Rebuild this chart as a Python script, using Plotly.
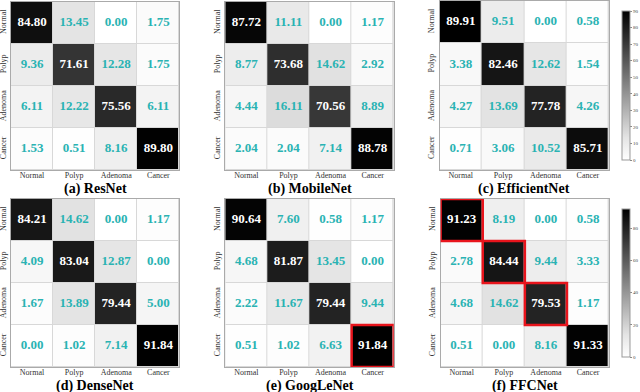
import plotly.graph_objects as go

classes = ["Normal", "Polyp", "Adenoma", "Cancer"]

titles = ["(a) ResNet", "(b) MobileNet", "(c) EfficientNet",
          "(d) DenseNet", "(e) GoogLeNet", "(f) FFCNet"]

resnet = [[84.80, 13.45, 0.00, 1.75],
          [9.36, 71.61, 12.28, 1.75],
          [6.11, 12.22, 75.56, 6.11],
          [1.53, 0.51, 8.16, 89.80]]
mobilenet = [[87.72, 11.11, 0.00, 1.17],
             [8.77, 73.68, 14.62, 2.92],
             [4.44, 16.11, 70.56, 8.89],
             [2.04, 2.04, 7.14, 88.78]]
efficientnet = [[89.91, 9.51, 0.00, 0.58],
                [3.38, 82.46, 12.62, 1.54],
                [4.27, 13.69, 77.78, 4.26],
                [0.71, 3.06, 10.52, 85.71]]
densenet = [[84.21, 14.62, 0.00, 1.17],
            [4.09, 83.04, 12.87, 0.00],
            [1.67, 13.89, 79.44, 5.00],
            [0.00, 1.02, 7.14, 91.84]]
googlenet = [[90.64, 7.60, 0.58, 1.17],
             [4.68, 81.87, 13.45, 0.00],
             [2.22, 11.67, 79.44, 9.44],
             [0.51, 1.02, 6.63, 91.84]]
ffcnet = [[91.23, 8.19, 0.00, 0.58],
          [2.78, 84.44, 9.44, 3.33],
          [4.68, 14.62, 79.53, 1.17],
          [0.51, 0.00, 8.16, 91.33]]

matrices = [resnet, mobilenet, efficientnet, densenet, googlenet, ffcnet]

# highlighted cells (panel index -> list of (row, col))
highlights = {4: [(3, 3)], 5: [(0, 0), (1, 1), (2, 2)]}

W, H = 640, 392
SERIF = "Liberation Serif, Times New Roman, serif"
TEAL = "#2ab3b3"
GREYS = [[0, "#ffffff"], [0.15, "#e4e4e4"], [0.8, "#333333"], [1, "#000000"]]

# pixel boxes of each heatmap: (left, right, top, bottom)
boxes = [(11, 180, 2, 170), (226, 395, 2, 170), (441, 611, 1, 170),
         (11, 180, 199, 367), (226, 395, 199, 367), (442, 611, 199, 367)]

fig = go.Figure()
idx = list(range(4))

for k, (mat, box) in enumerate(zip(matrices, boxes)):
    n = "" if k == 0 else str(k + 1)
    xa, ya = "x" + n, "y" + n
    top_row = k < 3
    zmax = 90 if top_row else 92
    show_cb = k in (2, 5)
    cb = None
    if show_cb:
        cb = dict(x=624 / W, xanchor="left", xpad=0,
                  y=1 - (box[2] + box[3]) / 2 / H, yanchor="middle",
                  len=(box[3] - box[2]) / H, lenmode="fraction",
                  thickness=8, outlinecolor="#999", outlinewidth=1,
                  tickmode="linear", tick0=0, dtick=10 if top_row else 20,
                  ticks="outside", ticklen=2, tickcolor="#888",
                  tickfont=dict(size=5, family=SERIF, color="#444"))
    fig.add_trace(go.Heatmap(
        z=mat, x=idx, y=idx, xaxis=xa, yaxis=ya,
        zmin=0, zmax=zmax, colorscale=GREYS,
        xgap=1, ygap=1, showscale=show_cb, colorbar=cb,
        hoverinfo="skip"))
    xs, ys, txt, cols = [], [], [], []
    for i in range(4):
        for j in range(4):
            xs.append(j)
            ys.append(i)
            txt.append(f"{mat[i][j]:.2f}")
            cols.append("white" if i == j else TEAL)
    fig.add_trace(go.Scatter(
        x=xs, y=ys, xaxis=xa, yaxis=ya, mode="text", text=txt,
        textfont=dict(family=SERIF, size=13, color=cols, weight="bold"),
        showlegend=False, hoverinfo="skip"))

    l, r, t, b = box
    axis_common = dict(showgrid=False, zeroline=False, showline=True,
                       mirror=True, linecolor="#aaa", linewidth=1,
                       ticks="", automargin=False,
                       tickfont=dict(family=SERIF, size=8, color="#333"),
                       tickmode="array", tickvals=idx, ticktext=classes)
    fig.layout["xaxis" + n] = dict(axis_common, domain=[l / W, r / W],
                                   anchor=ya, range=[-0.5, 3.5], ticklabelstandoff=-3)
    fig.layout["yaxis" + n] = dict(axis_common, domain=[1 - b / H, 1 - t / H],
                                   anchor=xa, range=[3.5, -0.5], tickangle=-90,
                                   ticklabelstandoff=1)

    for (ri, ci) in highlights.get(k, []):
        fig.add_shape(type="rect", xref=xa, yref=ya,
                      x0=ci - 0.5, x1=ci + 0.5, y0=ri - 0.5, y1=ri + 0.5,
                      line=dict(color="#e8141c", width=2.5))

    fig.add_annotation(text=f"<b>{titles[k]}</b>", xref="paper", yref="paper",
                       x=(l + r) / 2 / W, y=1 - (b + 19) / H,
                       xanchor="center", yanchor="middle", showarrow=False,
                       font=dict(family=SERIF, size=14, color="black"))

fig.update_layout(width=W, height=H, margin=dict(l=0, r=0, t=0, b=0),
                  paper_bgcolor="white", plot_bgcolor="#d8d8d8",
                  showlegend=False)

fig.write_html("out.html", config={"displayModeBar": False},
               post_script="document.body.style.margin='0';")
